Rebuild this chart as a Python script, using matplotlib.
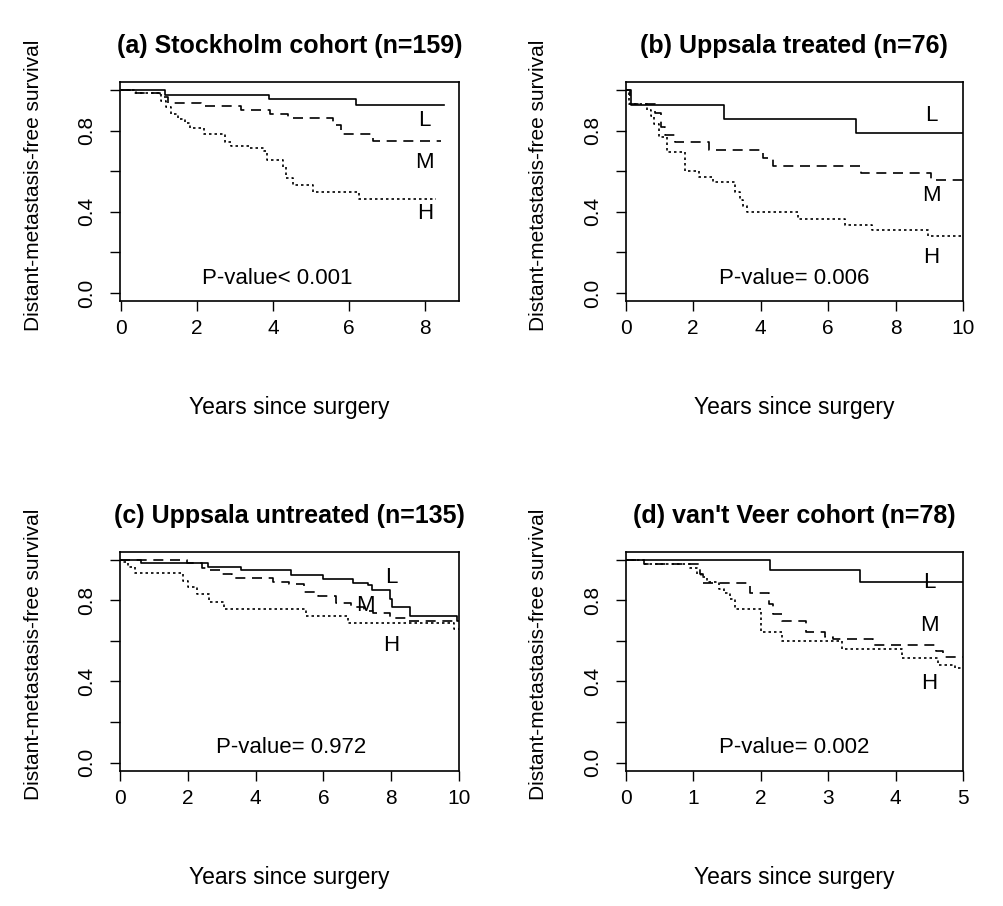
import matplotlib
matplotlib.use('Agg')
import matplotlib.pyplot as plt

plt.rcParams['font.family'] = ['Liberation Sans', 'DejaVu Sans']

# ---- data (time in years, survival after step) ----
titles = ['(a) Stockholm cohort (n=159)', '(b) Uppsala treated (n=76)',
          '(c) Uppsala untreated (n=135)', "(d) van't Veer cohort (n=78)"]
pvals = ['P-value< 0.001', 'P-value= 0.006', 'P-value= 0.972', 'P-value= 0.002']

a_L_t = [0, 1.16, 3.90, 6.18, 8.49]
a_L_s = [1.0, 0.975, 0.957, 0.929, 0.929]
a_M_t = [0, 0.22, 1.01, 1.23, 2.1, 3.16, 3.91, 4.4, 5.57, 5.79, 6.62, 8.42]
a_M_s = [1.0, 0.984, 0.968, 0.937, 0.920, 0.902, 0.883, 0.863, 0.829, 0.784, 0.751, 0.751]
a_H_t = [0, 0.4, 1.05, 1.18, 1.32, 1.49, 1.67, 1.80, 2.19, 2.72, 2.89, 3.39, 3.77, 3.83,
         4.26, 4.35, 4.52, 5.05, 6.27, 8.29]
a_H_s = [1.0, 0.984, 0.948, 0.915, 0.883, 0.858, 0.837, 0.814, 0.784, 0.743, 0.723, 0.715,
         0.70, 0.653, 0.620, 0.565, 0.530, 0.497, 0.464, 0.464]

b_L_t = [0, 0.16, 2.90, 6.82, 10.5]
b_L_s = [1.0, 0.929, 0.858, 0.789, 0.789]
b_M_t = [0, 0.12, 0.88, 1.05, 1.17, 1.47, 2.47, 4.08, 4.38, 6.99, 9.06, 10.5]
b_M_s = [1.0, 0.93, 0.886, 0.817, 0.781, 0.743, 0.705, 0.666, 0.628, 0.590, 0.557, 0.557]
b_H_t = [0, 0.1, 0.63, 0.75, 0.83, 0.98, 1.22, 1.76, 2.16, 2.60, 3.24, 3.39, 3.49, 3.59,
         5.1, 6.50, 7.29, 8.96, 10.5]
b_H_s = [1.0, 0.93, 0.90, 0.87, 0.833, 0.768, 0.694, 0.603, 0.571, 0.546, 0.50, 0.46, 0.43,
         0.401, 0.365, 0.337, 0.311, 0.283, 0.283]

c_L_t = [0, 0.63, 2.59, 3.56, 5.04, 5.98, 6.87, 7.32, 7.44, 7.96, 8.03, 8.56, 9.95, 10.5]
c_L_s = [1.0, 0.982, 0.967, 0.949, 0.924, 0.904, 0.888, 0.875, 0.851, 0.805, 0.769, 0.722,
         0.70, 0.70]
c_M_t = [0, 1.97, 2.42, 2.6, 2.95, 3.31, 4.5, 4.98, 5.42, 5.85, 6.38, 6.8, 7.2, 7.45, 7.96,
         8.45, 10.5]
c_M_s = [1.0, 0.982, 0.962, 0.949, 0.929, 0.909, 0.893, 0.879, 0.841, 0.821, 0.789, 0.765,
         0.75, 0.739, 0.714, 0.697, 0.697]
c_H_t = [0, 0.1, 0.24, 0.44, 1.87, 2.02, 2.27, 2.62, 3.06, 5.49, 6.73, 9.85, 10.5]
c_H_s = [1.0, 0.99, 0.967, 0.937, 0.896, 0.868, 0.833, 0.794, 0.759, 0.722, 0.690, 0.660, 0.660]

d_L_t = [0, 2.14, 3.47, 5.1]
d_L_s = [1.0, 0.949, 0.893, 0.893]
d_M_t = [0, 0.27, 1.10, 1.15, 1.84, 2.12, 2.19, 2.32, 2.67, 2.95, 3.07, 3.67, 4.6, 4.7, 5.1]
d_M_s = [1.0, 0.979, 0.93, 0.885, 0.835, 0.78, 0.735, 0.70, 0.645, 0.62, 0.61, 0.58, 0.55,
         0.52, 0.52]
d_H_t = [0, 0.27, 0.96, 1.05, 1.12, 1.2, 1.38, 1.45, 1.55, 1.62, 2.0, 2.31, 3.2, 4.09, 4.63,
         4.88, 5.1]
d_H_s = [1.0, 0.979, 0.962, 0.929, 0.913, 0.89, 0.855, 0.838, 0.805, 0.759, 0.643, 0.598,
         0.560, 0.516, 0.483, 0.466, 0.466]

curves = [
    [(a_L_t, a_L_s), (a_M_t, a_M_s), (a_H_t, a_H_s)],
    [(b_L_t, b_L_s), (b_M_t, b_M_s), (b_H_t, b_H_s)],
    [(c_L_t, c_L_s), (c_M_t, c_M_s), (c_H_t, c_H_s)],
    [(d_L_t, d_L_s), (d_M_t, d_M_s), (d_H_t, d_H_s)],
]
xlims = [(-0.03, 8.89), (0, 10), (0, 10), (0, 5)]
xticks = [[0, 2, 4, 6, 8], [0, 2, 4, 6, 8, 10], [0, 2, 4, 6, 8, 10], [0, 1, 2, 3, 4, 5]]
# label positions (x, y) for L, M, H and the p-value text
lmh_pos = [[(7.99, 0.85), (7.99, 0.644), (7.99, 0.39)],
           [(9.05, 0.874), (9.05, 0.48), (9.05, 0.176)],
           [(8.0, 0.913), (7.23, 0.775), (8.0, 0.577)],
           [(4.5, 0.888), (4.5, 0.676), (4.5, 0.392)]]
p_pos = [(4.12, 0.07), (5.01, 0.07), (5.05, 0.072), (2.50, 0.072)]

styles = ['-', (0, (6, 4)), (0, (1.5, 1.8))]

W, H = 1004, 906
fig = plt.figure(figsize=(W / 100, H / 100), dpi=100)
boxes = [(120, 82, 459, 301), (625.7, 82, 963, 301),
         (120, 551.7, 459, 770.7), (625.7, 551.7, 963, 770.7)]

for i, (x0, y0, x1, y1) in enumerate(boxes):
    ax = fig.add_axes([x0 / W, 1 - y1 / H, (x1 - x0) / W, (y1 - y0) / H])
    for (t, s), ls in zip(curves[i], styles):
        ax.step(t, s, where='post', color='black', lw=1.2, linestyle=ls)
    for lab, (lx, ly) in zip('LMH', lmh_pos[i]):
        ax.text(lx, ly, lab, ha='center', va='center', fontsize=16)
    ax.text(p_pos[i][0], p_pos[i][1], pvals[i], ha='center', va='center', fontsize=16)
    ax.set_xlim(*xlims[i])
    ax.set_ylim(-0.04, 1.04)
    ax.set_xticks(xticks[i])
    ax.set_yticks([0, 0.2, 0.4, 0.6, 0.8, 1.0])
    ax.set_yticklabels(['0.0', '', '0.4', '', '0.8', ''], rotation=90, va='center')
    ax.tick_params(direction='out', length=7, width=1.0, labelsize=15)
    ax.tick_params(axis='y', pad=10)
    ax.tick_params(axis='x', pad=6)
    for sp in ax.spines.values():
        sp.set_linewidth(1.2)
    ax.set_title(titles[i], fontsize=18, fontweight='bold', pad=21)
    ax.set_xlabel('Years since surgery', fontsize=16.5, labelpad=42)
    ax.set_ylabel('Distant-metastasis-free survival', fontsize=15, labelpad=25)
    ax.yaxis.label.set_y(0.53)

fig.savefig('out.png', dpi=100)
